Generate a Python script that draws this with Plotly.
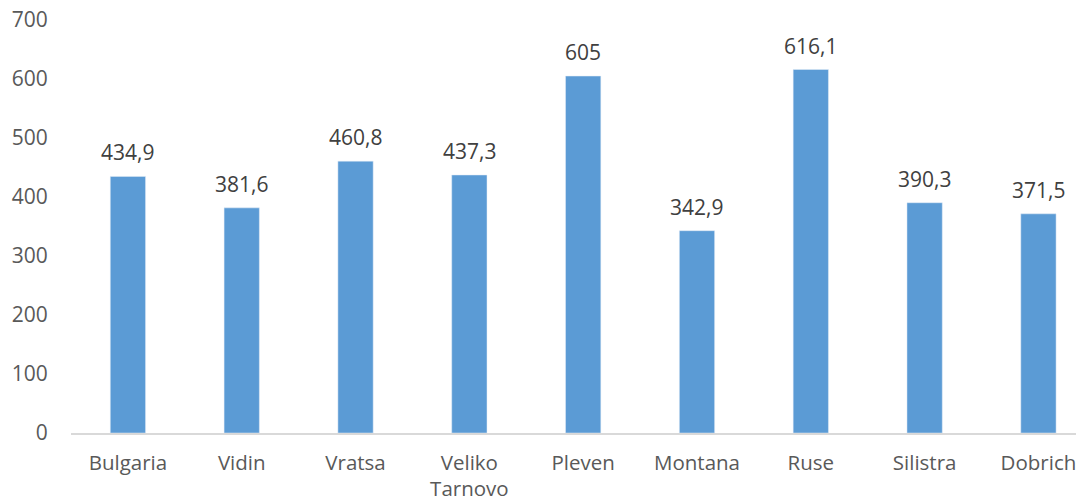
import plotly.graph_objects as go

categories = ["Bulgaria", "Vidin", "Vratsa", "Veliko<br>Tarnovo", "Pleven", "Montana", "Ruse", "Silistra", "Dobrich"]
values = [434.9, 381.6, 460.8, 437.3, 605, 342.9, 616.1, 390.3, 371.5]
y_ticks = [0, 100, 200, 300, 400, 500, 600, 700]

labels = [(str(v) if not float(v).is_integer() else str(int(v))).replace(".", ",") for v in values]
xs = list(range(len(categories)))

fig = go.Figure(go.Bar(
    x=xs, y=values,
    marker=dict(color="#5B9BD5"), width=0.31,
))
for x, v, t in zip(xs, values, labels):
    fig.add_annotation(x=x, y=v, text=t, showarrow=False, yanchor="bottom", yshift=8,
                       font=dict(size=21, color="#404040", family="Open Sans"))
fig.update_layout(
    width=1081, height=504,
    margin=dict(l=71, r=5, t=20, b=71, autoexpand=False),
    plot_bgcolor="white", paper_bgcolor="white",
    font=dict(family="Open Sans", size=21, color="#595959"),
    showlegend=False,
    xaxis=dict(tickmode="array", tickvals=xs, ticktext=categories,
               range=[-0.5, 8.33], showline=True, linecolor="#D9D9D9", linewidth=2,
               showgrid=False, ticks="outside", ticklen=10, tickcolor="rgba(0,0,0,0)",
               tickfont=dict(size=20.5, color="#595959"), automargin=False,
               ticklabeloverflow="allow"),
    yaxis=dict(range=[0, 700], tickvals=y_ticks, showgrid=False, zeroline=False,
               showline=False, ticks="outside", ticklen=18, tickcolor="rgba(0,0,0,0)",
               tickfont=dict(size=21, color="#595959"), automargin=False,
               ticklabeloverflow="allow"),
)
fig.write_html("out.html", config={"displayModeBar": False},
               post_script="document.body.style.margin='0';")
